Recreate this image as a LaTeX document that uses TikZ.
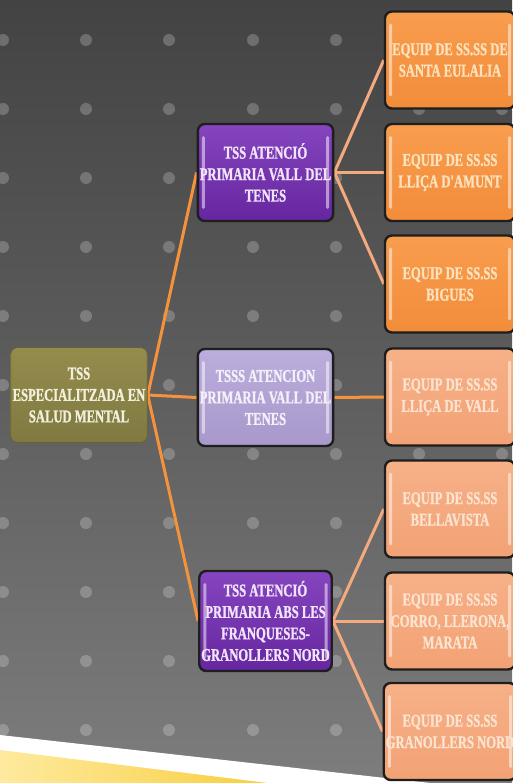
\documentclass[tikz,border=0pt]{standalone}
\usepackage{fontspec}
\newfontfamily\boxfont[FakeStretch=0.7,FakeBold=1.2]{Liberation Serif}
\definecolor{bgtop}{HTML}{434343}
\definecolor{bgmid}{HTML}{5E5E5E}
\definecolor{bgbot}{HTML}{7D7D7D}
\definecolor{boxline}{HTML}{1E1E1E}
\definecolor{olivetop}{HTML}{948C4C}
\definecolor{olivebot}{HTML}{807A42}
\definecolor{olivetext}{HTML}{F3EFDD}
\definecolor{purptop}{HTML}{8545BE}
\definecolor{purpbot}{HTML}{6526A0}
\definecolor{purptext}{HTML}{F1E4FA}
\definecolor{lpurptop}{HTML}{BBADDC}
\definecolor{lpurpbot}{HTML}{A898CB}
\definecolor{lpurptext}{HTML}{F4F0FA}
\definecolor{orangetop}{HTML}{F89D4E}
\definecolor{orangebot}{HTML}{F28C3A}
\definecolor{orangetext}{HTML}{FCE2BC}
\definecolor{peachtop}{HTML}{F7B087}
\definecolor{peachbot}{HTML}{F2A275}
\definecolor{peachtext}{HTML}{FBE3CF}
\definecolor{lineorange}{HTML}{F5923C}
\definecolor{linepeach}{HTML}{F2AA7E}
\definecolor{yelA}{HTML}{FEEA9E}
\definecolor{yelB}{HTML}{F7CB36}
\pgfdeclarelayer{back}
\pgfdeclarelayer{lines}
\pgfsetlayers{back,lines,main}
\begin{document}
\begin{tikzpicture}[x=1pt,y=-1pt,
  boxbase/.style={rounded corners=7pt, minimum width=130pt, minimum height=97pt,
    inner sep=2pt, align=center,
    font={\boxfont\bfseries\fontsize{18}{21.5}\selectfont},
    path picture={
      \fill[white,opacity=0.5,rounded corners=1.5pt]
        ([xshift=4pt,yshift=-12pt]path picture bounding box.north west) rectangle
        ([xshift=7pt,yshift=12pt]path picture bounding box.south west);
      \fill[white,opacity=0.5,rounded corners=1.5pt]
        ([xshift=-4pt,yshift=-12pt]path picture bounding box.north east) rectangle
        ([xshift=-7pt,yshift=12pt]path picture bounding box.south east);
    }},
  rootbox/.style={rounded corners=7pt, minimum width=132pt, minimum height=95pt,
    inner sep=2pt, align=center, draw=olivebot!80!black, line width=0.8pt,
    top color=olivetop, bottom color=olivebot, text=olivetext,
    font={\boxfont\bfseries\fontsize{18}{21.5}\selectfont}},
  purpbox/.style={boxbase, draw=boxline, line width=2.4pt,
    top color=purptop, bottom color=purpbot, text=purptext},
  lpurpbox/.style={boxbase, draw=boxline, line width=2.4pt,
    top color=lpurptop, bottom color=lpurpbot, text=lpurptext},
  orangebox/.style={boxbase, draw=boxline, line width=2.4pt,
    top color=orangetop, bottom color=orangebot, text=orangetext},
  peachbox/.style={boxbase, draw=boxline, line width=2.4pt,
    top color=peachtop, bottom color=peachbot, text=peachtext},
  rootlink/.style={draw=lineorange, line width=3pt},
  leaflink/.style={draw=linepeach, line width=3pt},
]
\useasboundingbox (0,0) rectangle (512,783);

\begin{pgfonlayer}{back}
  \shade[top color=bgtop, bottom color=bgbot, middle color=bgmid] (0,0) rectangle (512,783);
  \foreach \x in {3,86,169,253,336,419,502}
    \foreach \y in {40,109,178,247,316,385,454,523,592,661,730}
      \fill[white,opacity=0.22] (\x,\y) circle (6);
  \fill[white] (0,735) -- (520,793) -- (520,800) -- (0,800) -- cycle;
  \shade[left color=yelA, right color=yelB] (0,750) -- (300,787) -- (0,787) -- cycle;
\end{pgfonlayer}

\node[rootbox] (root) at (79,395) {TSS\\ESPECIALITZADA EN\\SALUD MENTAL};

\node[purpbox] (p1) at (265.5,172.5) {TSS ATENCIÓ\\PRIMARIA VALL DEL\\TENES};
\node[lpurpbox] (p2) at (265.5,397.5) {TSSS ATENCION\\PRIMARIA VALL DEL\\TENES};
\node[purpbox, minimum height=100pt] (p3) at (265.5,621) {TSS ATENCIÓ\\PRIMARIA ABS LES\\FRANQUESES-\\GRANOLLERS NORD};

\node[orangebox] (e1) at (450,60) {EQUIP DE SS.SS DE\\SANTA EULALIA};
\node[orangebox] (e2) at (450,172.5) {EQUIP DE SS.SS\\LLIÇA D'AMUNT};
\node[orangebox] (e3) at (450,284) {EQUIP DE SS.SS\\BIGUES};
\node[peachbox] (e4) at (450,397) {EQUIP DE SS.SS\\LLIÇA DE VALL};
\node[peachbox] (e5) at (450,509) {EQUIP DE SS.SS\\BELLAVISTA};
\node[peachbox] (e6) at (450,621) {EQUIP DE SS.SS\\CORRO, LLERONA,\\MARATA};
\node[peachbox] (e7) at (450,731.5) {EQUIP DE SS.SS\\GRANOLLERS NORD};

\begin{pgfonlayer}{lines}
  \draw[rootlink] (root.east) -- (p1.west);
  \draw[rootlink] (root.east) -- (p2.west);
  \draw[rootlink] (root.east) -- (p3.west);
  \draw[leaflink] (p1.east) -- (e1.west);
  \draw[leaflink] (p1.east) -- (e2.west);
  \draw[leaflink] (p1.east) -- (e3.west);
  \draw[rootlink] (p2.east) -- (e4.west);
  \draw[leaflink] (p3.east) -- (e5.west);
  \draw[leaflink] (p3.east) -- (e6.west);
  \draw[leaflink] (p3.east) -- (e7.west);
\end{pgfonlayer}
\end{tikzpicture}
\end{document}
